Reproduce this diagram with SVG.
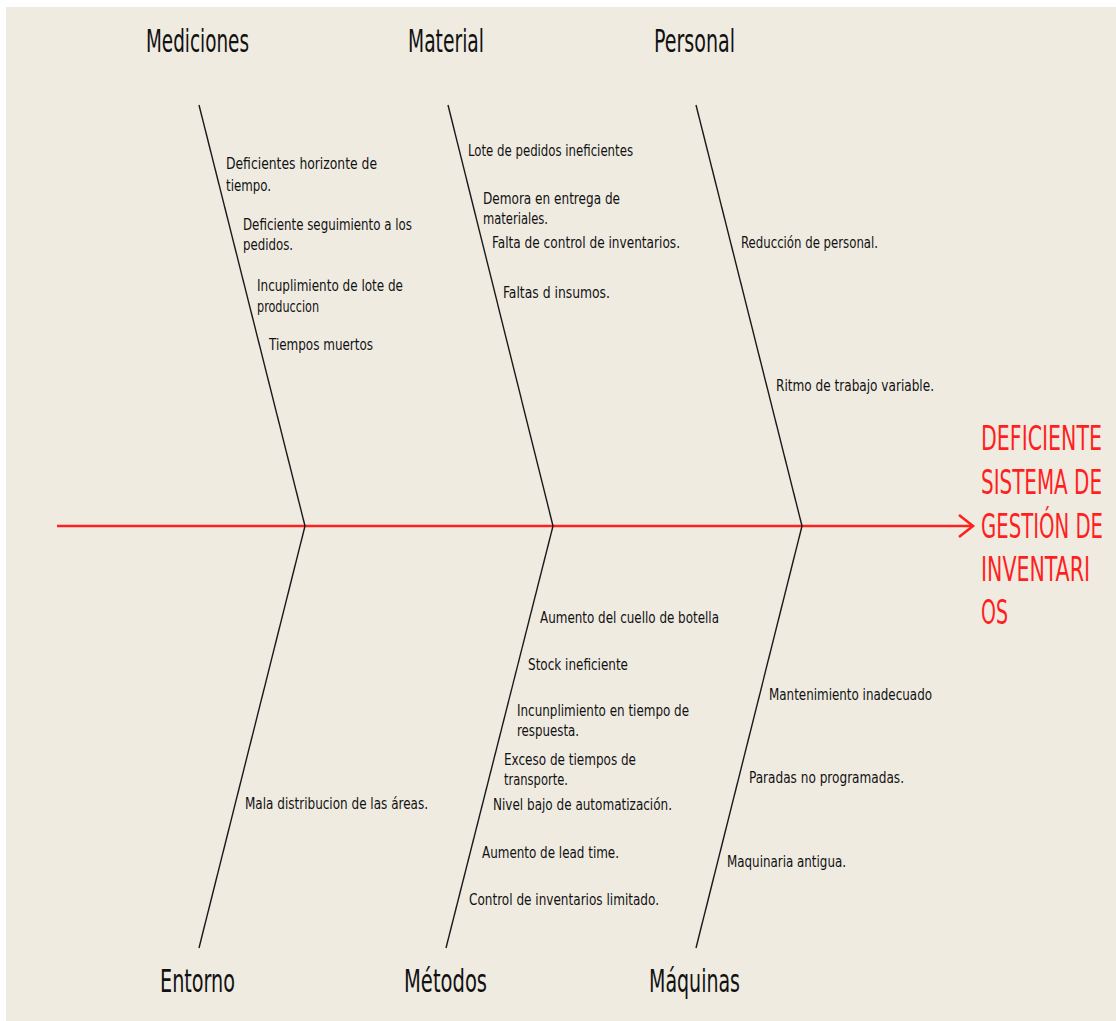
<svg xmlns="http://www.w3.org/2000/svg" width="1116" height="1021" viewBox="0 0 1116 1021">
<style>
text{font-family:"DejaVu Sans Condensed","DejaVu Sans",sans-serif;fill:#111111}
.cat{font-size:32px}
.c{font-size:16px}
.eff{font-size:22px;fill:#ff1f1f}
.bone{stroke:#1a1a1a;stroke-width:1.4;fill:none}
.spine{stroke:#ff2020;stroke-width:2.6;fill:none}
</style>
<rect x="0" y="0" width="1116" height="1021" fill="#ffffff"/>
<rect x="6" y="7" width="1110" height="1014" fill="#efebe1"/>
<g id="connectors">
<line class="spine" x1="57" y1="526" x2="973" y2="526"/>
<polyline class="spine" points="959,515 973,526 959,537"/>
<line class="bone" x1="199" y1="105" x2="305" y2="526"/>
<line class="bone" x1="448" y1="105" x2="553" y2="526"/>
<line class="bone" x1="696" y1="105" x2="802" y2="526"/>
<line class="bone" x1="305" y1="526" x2="199" y2="948"/>
<line class="bone" x1="553" y1="526" x2="446" y2="948"/>
<line class="bone" x1="802" y1="526" x2="696" y2="948"/>
</g>
<g id="mediciones">
<text class="cat" x="146" y="52" textLength="103" lengthAdjust="spacingAndGlyphs">Mediciones</text>
<text class="c" x="226" y="169" textLength="151" lengthAdjust="spacingAndGlyphs">Deficientes horizonte de</text>
<text class="c" x="226" y="191" textLength="45" lengthAdjust="spacingAndGlyphs">tiempo.</text>
<text class="c" x="243" y="230" textLength="169" lengthAdjust="spacingAndGlyphs">Deficiente seguimiento a los</text>
<text class="c" x="243" y="250" textLength="50" lengthAdjust="spacingAndGlyphs">pedidos.</text>
<text class="c" x="257" y="291" textLength="146" lengthAdjust="spacingAndGlyphs">Incuplimiento de lote de</text>
<text class="c" x="257" y="312" textLength="62" lengthAdjust="spacingAndGlyphs">produccion</text>
<text class="c" x="269" y="350" textLength="104" lengthAdjust="spacingAndGlyphs">Tiempos muertos</text>
</g>
<g id="material">
<text class="cat" x="408" y="52" textLength="76" lengthAdjust="spacingAndGlyphs">Material</text>
<text class="c" x="468" y="156" textLength="165" lengthAdjust="spacingAndGlyphs">Lote de pedidos ineficientes</text>
<text class="c" x="483" y="204" textLength="137" lengthAdjust="spacingAndGlyphs">Demora en entrega de</text>
<text class="c" x="483" y="224" textLength="65" lengthAdjust="spacingAndGlyphs">materiales.</text>
<text class="c" x="492" y="248" textLength="188" lengthAdjust="spacingAndGlyphs">Falta de control de inventarios.</text>
<text class="c" x="503" y="298" textLength="107" lengthAdjust="spacingAndGlyphs">Faltas d insumos.</text>
</g>
<g id="personal">
<text class="cat" x="654" y="52" textLength="81" lengthAdjust="spacingAndGlyphs">Personal</text>
<text class="c" x="741" y="248" textLength="137" lengthAdjust="spacingAndGlyphs">Reducción de personal.</text>
<text class="c" x="776" y="391" textLength="158" lengthAdjust="spacingAndGlyphs">Ritmo de trabajo variable.</text>
</g>
<g id="entorno">
<text class="cat" x="160" y="992" textLength="75" lengthAdjust="spacingAndGlyphs">Entorno</text>
<text class="c" x="245" y="809" textLength="183" lengthAdjust="spacingAndGlyphs">Mala distribucion de las áreas.</text>
</g>
<g id="metodos">
<text class="cat" x="404" y="992" textLength="83" lengthAdjust="spacingAndGlyphs">Métodos</text>
<text class="c" x="540" y="623" textLength="179" lengthAdjust="spacingAndGlyphs">Aumento del cuello de botella</text>
<text class="c" x="528" y="670" textLength="100" lengthAdjust="spacingAndGlyphs">Stock ineficiente</text>
<text class="c" x="517" y="716" textLength="172" lengthAdjust="spacingAndGlyphs">Incunplimiento en tiempo de</text>
<text class="c" x="517" y="736" textLength="62" lengthAdjust="spacingAndGlyphs">respuesta.</text>
<text class="c" x="504" y="765" textLength="132" lengthAdjust="spacingAndGlyphs">Exceso de tiempos de</text>
<text class="c" x="504" y="785" textLength="64" lengthAdjust="spacingAndGlyphs">transporte.</text>
<text class="c" x="493" y="810" textLength="179" lengthAdjust="spacingAndGlyphs">Nivel bajo de automatización.</text>
<text class="c" x="482" y="858" textLength="137" lengthAdjust="spacingAndGlyphs">Aumento de lead time.</text>
<text class="c" x="469" y="905" textLength="190" lengthAdjust="spacingAndGlyphs">Control de inventarios limitado.</text>
</g>
<g id="maquinas">
<text class="cat" x="649" y="992" textLength="91" lengthAdjust="spacingAndGlyphs">Máquinas</text>
<text class="c" x="769" y="700" textLength="163" lengthAdjust="spacingAndGlyphs">Mantenimiento inadecuado</text>
<text class="c" x="749" y="783" textLength="155" lengthAdjust="spacingAndGlyphs">Paradas no programadas.</text>
<text class="c" x="727" y="867" textLength="119" lengthAdjust="spacingAndGlyphs">Maquinaria antigua.</text>
</g>
<g id="effect">
<text class="eff" transform="translate(981,450) scale(1,1.5)" textLength="121" lengthAdjust="spacingAndGlyphs">DEFICIENTE</text>
<text class="eff" transform="translate(981,494) scale(1,1.5)" textLength="121" lengthAdjust="spacingAndGlyphs">SISTEMA DE</text>
<text class="eff" transform="translate(981,538) scale(1,1.5)" textLength="122" lengthAdjust="spacingAndGlyphs">GESTIÓN DE</text>
<text class="eff" transform="translate(981,581) scale(1,1.5)" textLength="109" lengthAdjust="spacingAndGlyphs">INVENTARI</text>
<text class="eff" transform="translate(981,624) scale(1,1.5)" textLength="27" lengthAdjust="spacingAndGlyphs">OS</text>
</g>
</svg>
